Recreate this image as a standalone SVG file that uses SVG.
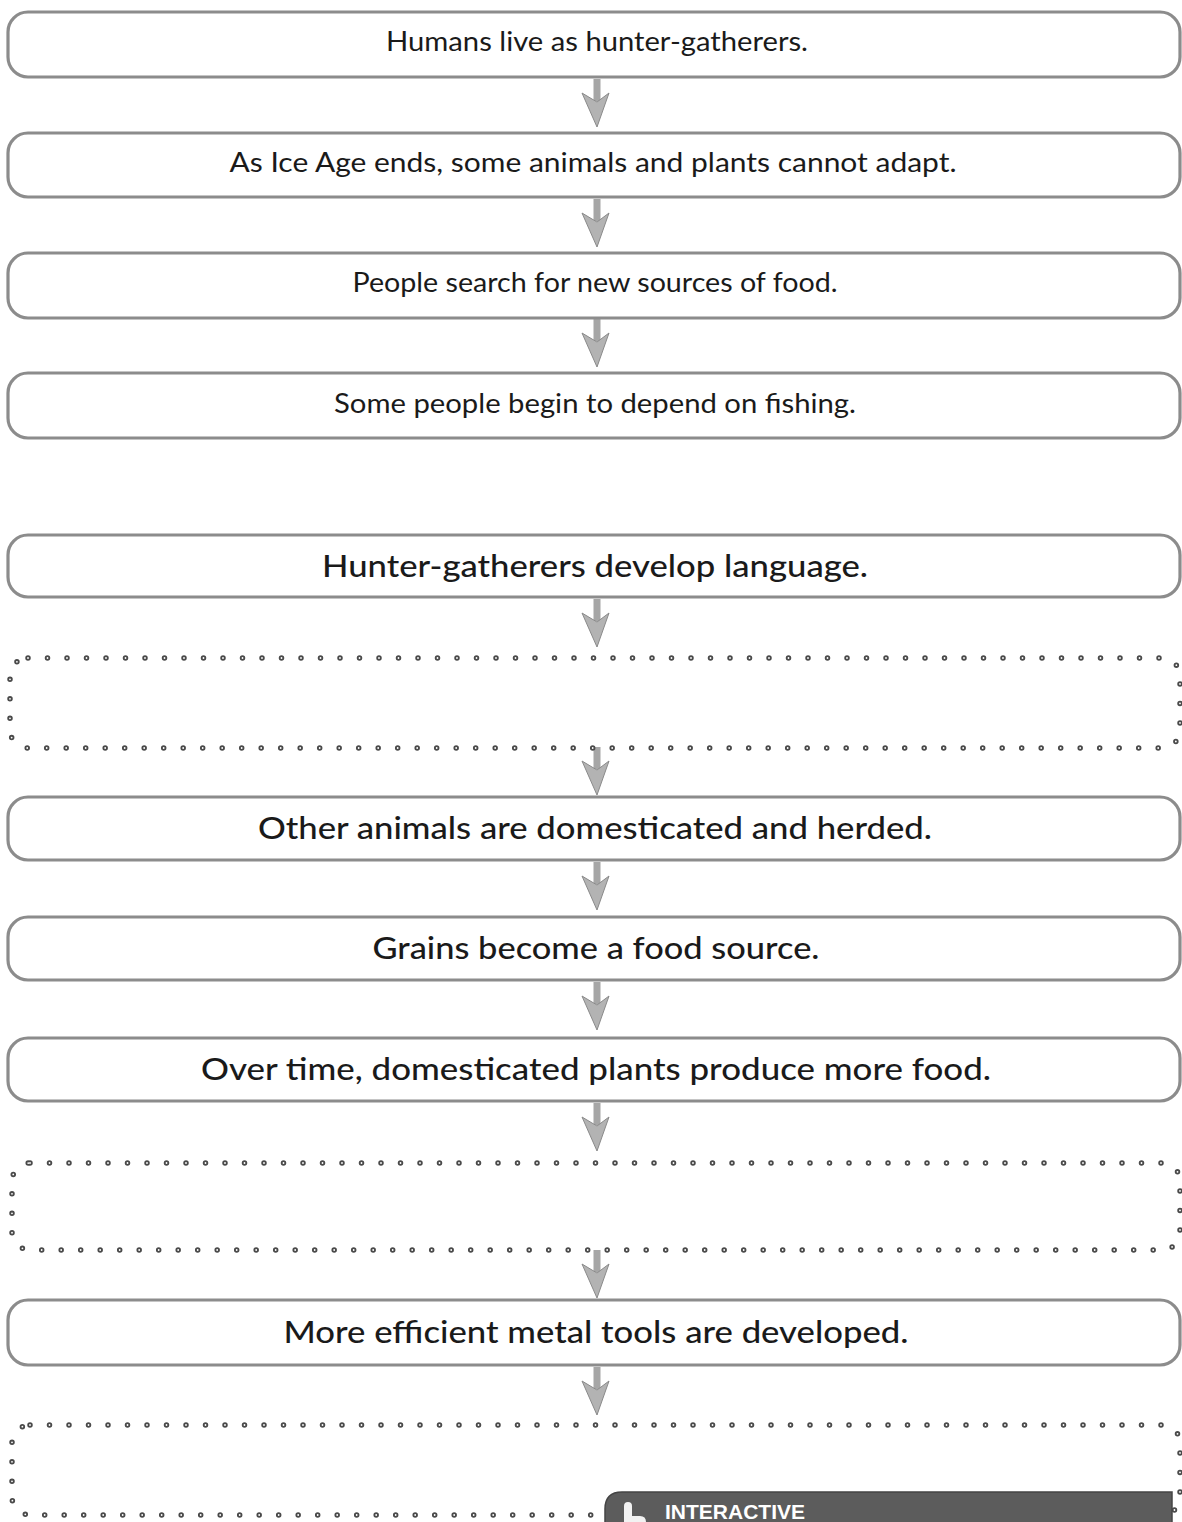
<svg xmlns="http://www.w3.org/2000/svg" width="1182" height="1522" viewBox="0 0 1182 1522">
<defs>
<style>
.box{fill:#ffffff;stroke:#8c8c8c;stroke-width:3.2}
.hand{font-family:"Lato","Open Sans",sans-serif;font-size:26px;fill:#1a1a1a;text-anchor:middle}
.sans{font-family:"Lato","Noto Sans",sans-serif;font-size:31px;font-weight:500;fill:#1a1a1a;text-anchor:middle}
.dotA{fill:none;stroke:#4a4a4a;stroke-width:5.5;stroke-linecap:round;stroke-dasharray:0 19.5}
.dotB{fill:none;stroke:#fff;stroke-width:1.8;stroke-linecap:round;stroke-dasharray:0 19.5}
.shaft{fill:#a6a6a6}
.head{fill:#b3b3b3;stroke:#8a8a8a;stroke-width:1}
</style>
<g id="arrow">
<rect class="shaft" x="-3.5" y="0" width="7" height="22"/>
<polygon class="head" points="-15,14 0,23 12,14 0,48"/>
</g>
</defs>

<g id="connectors">
<use href="#arrow" x="597" y="79"/>
<use href="#arrow" x="597" y="199"/>
<use href="#arrow" x="597" y="319"/>
<use href="#arrow" x="597" y="599"/>
<use href="#arrow" x="597" y="747"/>
<use href="#arrow" x="597" y="862"/>
<use href="#arrow" x="597" y="982"/>
<use href="#arrow" x="597" y="1103"/>
<use href="#arrow" x="597" y="1250"/>
<use href="#arrow" x="597" y="1367"/>
</g>

<g id="n1"><rect class="box" x="8" y="12" width="1172" height="65" rx="20"/><text class="hand" x="597" y="51" textLength="422" lengthAdjust="spacingAndGlyphs">Humans live as hunter-gatherers.</text></g>
<g id="n2"><rect class="box" x="8" y="133" width="1172" height="64" rx="20"/><text class="hand" x="593" y="172" textLength="727" lengthAdjust="spacingAndGlyphs">As Ice Age ends, some animals and plants cannot adapt.</text></g>
<g id="n3"><rect class="box" x="8" y="253" width="1172" height="65" rx="20"/><text class="hand" x="595" y="292" textLength="485" lengthAdjust="spacingAndGlyphs">People search for new sources of food.</text></g>
<g id="n4"><rect class="box" x="8" y="373" width="1172" height="65" rx="20"/><text class="hand" x="595" y="413" textLength="522" lengthAdjust="spacingAndGlyphs">Some people begin to depend on fishing.</text></g>
<g id="n5"><rect class="box" x="8" y="535" width="1172" height="62" rx="20"/><text class="sans" x="595" y="577" textLength="546" lengthAdjust="spacingAndGlyphs">Hunter-gatherers develop language.</text></g>
<g id="n6"><rect class="dotA" x="10" y="658" width="1170" height="90" rx="18"/><rect class="dotB" x="10" y="658" width="1170" height="90" rx="18"/></g>
<g id="n7"><rect class="box" x="8" y="797" width="1172" height="63" rx="20"/><text class="sans" x="595" y="839" textLength="674" lengthAdjust="spacingAndGlyphs">Other animals are domesticated and herded.</text></g>
<g id="n8"><rect class="box" x="8" y="917" width="1172" height="63" rx="20"/><text class="sans" x="596" y="959" textLength="447" lengthAdjust="spacingAndGlyphs">Grains become a food source.</text></g>
<g id="n9"><rect class="box" x="8" y="1038" width="1172" height="63" rx="20"/><text class="sans" x="596" y="1080" textLength="790" lengthAdjust="spacingAndGlyphs">Over time, domesticated plants produce more food.</text></g>
<g id="n10"><rect class="dotA" x="12" y="1163" width="1168" height="87" rx="18"/><rect class="dotB" x="12" y="1163" width="1168" height="87" rx="18"/></g>
<g id="n11"><rect class="box" x="8" y="1300" width="1172" height="65" rx="20"/><text class="sans" x="596" y="1343" textLength="625" lengthAdjust="spacingAndGlyphs">More efficient metal tools are developed.</text></g>
<g id="n12"><rect class="dotA" x="12" y="1425" width="1168" height="90" rx="18"/><rect class="dotB" x="12" y="1425" width="1168" height="90" rx="18"/></g>

<g id="interactive">
<path d="M622,1492 H1172 V1530 H605 V1509 Q605,1492 622,1492 Z" fill="#5c5c5c" stroke="#444" stroke-width="1.5"/>
<path d="M624,1530 V1506 Q624,1502 628,1502 Q632,1502 632,1506 V1516 H640 Q646,1516 646,1522 V1530 Z" fill="#f2f2f2"/>
<text x="665" y="1519" font-family="Liberation Sans, Arial, sans-serif" font-weight="bold" font-size="21" fill="#ffffff">INTERACTIVE</text>
</g>
</svg>
